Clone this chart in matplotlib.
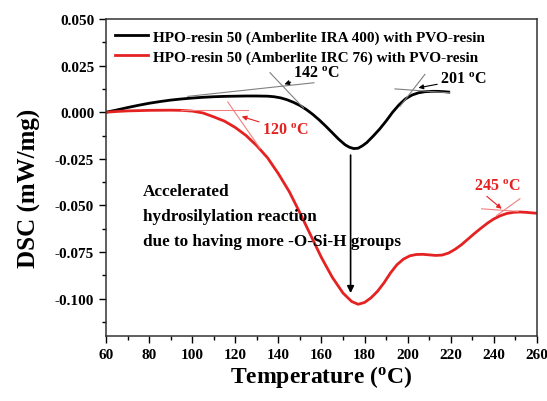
import numpy as np
import matplotlib
matplotlib.use('Agg')
import matplotlib.pyplot as plt

plt.rcParams['font.family'] = ['Liberation Serif', 'DejaVu Serif']
plt.rcParams['font.weight'] = 'bold'
plt.rcParams['mathtext.fontset'] = 'custom'
plt.rcParams['mathtext.rm'] = 'Liberation Serif:bold'
plt.rcParams['mathtext.it'] = 'Liberation Serif:bold'
plt.rcParams['mathtext.bf'] = 'Liberation Serif:bold'

# black curve: HPO-resin 50 (Amberlite IRA 400)
T1 = [60, 65, 70, 75, 80, 85, 90, 95, 100, 105, 110, 115, 120, 125, 130, 135, 138,
      141, 144, 147, 150, 153, 156, 159, 162, 165, 168, 171, 173, 175, 177, 179,
      181, 184, 187, 190, 193, 196, 199, 202, 205, 208, 211, 214, 217, 219]
D1 = [0.0, 0.0012, 0.0025, 0.0037, 0.0048, 0.0057, 0.0065, 0.0071, 0.0076, 0.0080,
      0.0083, 0.0085, 0.0086, 0.0087, 0.0087, 0.0086, 0.0083, 0.0077, 0.0067, 0.0053,
      0.0036, 0.0014, -0.0012, -0.0042, -0.0075, -0.0110, -0.0145, -0.0175, -0.0188,
      -0.0195, -0.0193, -0.0180, -0.0163, -0.0128, -0.0090, -0.0047, 0.0000, 0.0040,
      0.0072, 0.0092, 0.0104, 0.0110, 0.0112, 0.0112, 0.0110, 0.0108]

# red curve: HPO-resin 50 (Amberlite IRC 76)
T2 = [60, 65, 70, 80, 90, 95, 100, 105, 110, 115, 120, 125, 130, 135, 140, 145, 150,
      155, 160, 165, 170, 174, 177, 180, 183, 186, 189, 192, 195, 198, 201, 204, 207,
      210, 213, 216, 219, 222, 225, 228, 231, 234, 237, 240, 243, 246, 249, 252, 255,
      258, 260]
D2 = [0.0, 0.0004, 0.0007, 0.0010, 0.0011, 0.0010, 0.0006, -0.0004, -0.0025, -0.0048,
      -0.0082, -0.0125, -0.0180, -0.0245, -0.0330, -0.0425, -0.0540, -0.0660, -0.0780,
      -0.0885, -0.0970, -0.1015, -0.1030, -0.1020, -0.0995, -0.0960, -0.0915, -0.0862,
      -0.0818, -0.0788, -0.0770, -0.0763, -0.0762, -0.0765, -0.0768, -0.0766, -0.0755,
      -0.0735, -0.0710, -0.0680, -0.0650, -0.0622, -0.0595, -0.0572, -0.0555, -0.0543,
      -0.0537, -0.0535, -0.0537, -0.0540, -0.0542]

# onset tangent lines (start, end)
tan_142 = [[(98, 0.0085), (156.5, 0.0158)], [(136.1, 0.0212), (151.6, 0.0023)]]
tan_201 = [[(194.1, 0.0125), (219.6, 0.0104)], [(196.4, 0.0031), (208.0, 0.0203)]]
tan_120 = [[(95, 0.0010), (126, 0.0010)], [(116.5, 0.0055), (131.5, -0.0195)]]
tan_245 = [[(234.3, -0.0518), (251.3, -0.0532)], [(241.3, -0.0554), (252.1, -0.0464)]]

red = '#e52222'

fig = plt.figure(figsize=(5.47, 4.02), dpi=100)
ax = fig.add_axes([0.1938, 0.1617, 0.7879, 0.7886])

ax.plot(T1, D1, color='black', lw=2.0, label='HPO-resin 50 (Amberlite IRA 400) with PVO-resin')
ax.plot(T2, D2, color=red, lw=2.0, label='HPO-resin 50 (Amberlite IRC 76) with PVO-resin')

for seg in tan_142 + tan_201:
    ax.plot([seg[0][0], seg[1][0]], [seg[0][1], seg[1][1]], color='#808080', lw=0.8)
for seg in tan_120 + tan_245:
    ax.plot([seg[0][0], seg[1][0]], [seg[0][1], seg[1][1]], color='#f08080', lw=0.8)

deg = r'$^{\mathrm{o}}$C'
arr = dict(arrowstyle='-|>', lw=0.8, mutation_scale=7, shrinkA=0, shrinkB=0)
ax.annotate('142 ' + deg, xy=(142.8, 0.0150), xytext=(147, 0.0208), fontsize=11.5,
            color='black', va='center', ha='left', arrowprops=dict(arr, color='black'))
ax.annotate('201 ' + deg, xy=(205, 0.0131), xytext=(215, 0.0176), fontsize=11.5,
            color='black', va='center', ha='left', arrowprops=dict(arr, color='black'))
ax.annotate('120 ' + deg, xy=(123, -0.0023), xytext=(132.3, -0.0095), fontsize=11.5,
            color=red, va='center', ha='left', arrowprops=dict(arr, color=red))
ax.text(241.7, -0.0393, '245 ' + deg, fontsize=11.5, color=red, va='center', ha='center')
ax.annotate('', xy=(243.6, -0.0518), xytext=(236.7, -0.0451),
            arrowprops=dict(arr, color=red))

# peak arrow
ax.annotate('', xy=(173.5, -0.097), xytext=(173.5, -0.023),
            arrowprops=dict(arrowstyle='-|>', color='black', lw=1.2, mutation_scale=10,
                            shrinkA=0, shrinkB=0))
ax.text(77.2, -0.0420, 'Accelerated', fontsize=12.3, va='center', ha='left')
ax.text(77.2, -0.0555, 'hydrosilylation reaction', fontsize=12.3, va='center', ha='left')
ax.text(77.2, -0.0690, 'due to having more -O-Si-H groups', fontsize=12.3, va='center', ha='left')

ax.set_xlim(60, 260)
ax.set_ylim(-0.12, 0.05)
ax.set_xticks(np.arange(60, 261, 20))
ax.set_yticks([-0.100, -0.075, -0.050, -0.025, 0.000, 0.025, 0.050])
ax.set_yticklabels(['-0.100', '-0.075', '-0.050', '-0.025', '0.000', '0.025', '0.050'])
ax.set_xticks(np.arange(70, 260, 20), minor=True)
ax.set_yticks(np.arange(-0.1125, 0.05, 0.025), minor=True)
ax.tick_params(which='major', length=5, width=1, labelsize=11)
ax.tick_params(which='minor', length=3, width=1)
for s in ax.spines.values():
    s.set_linewidth(1.1)
    s.set_color('#333333')

ax.set_xlabel('Temperature (' + r'$^{\mathrm{o}}$' + 'C)', fontsize=17, fontweight='bold')
ax.set_ylabel('DSC (mW/mg)', fontsize=18, fontweight='bold')
ax.xaxis.set_label_coords(0.5, -0.085)
ax.yaxis.set_label_coords(-0.15, 0.47)

ax.legend(loc='upper left', frameon=False, fontsize=11, handlelength=2.2,
          handletextpad=0.3, labelspacing=0.4, borderaxespad=0.3,
          bbox_to_anchor=(-0.005, 1.0))

fig.savefig('out.png', dpi=100)
